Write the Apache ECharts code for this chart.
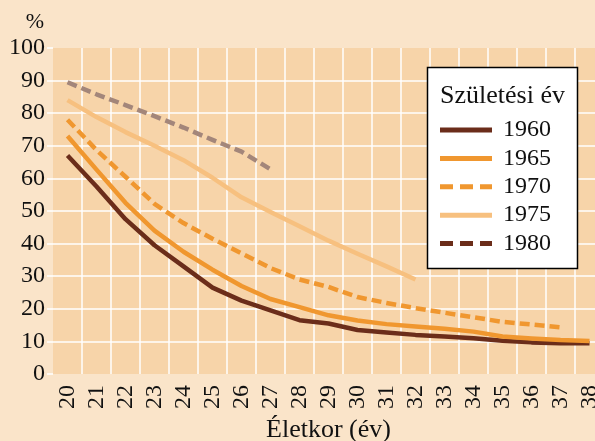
<!DOCTYPE html>
<html>
<head>
<meta charset="utf-8">
<script src="https://cdn.jsdelivr.net/npm/echarts@6/dist/echarts.min.js"></script>
<style>
  html, body { margin: 0; padding: 0; background: #fae4c9; }
  #chart { width: 595px; height: 441px; }
</style>
</head>
<body>
<div id="chart"></div>
<script>
const categories = ['20','21','22','23','24','25','26','27','28','29','30','31','32','33','34','35','36','37','38'];
const yTicks = [0, 10, 20, 30, 40, 50, 60, 70, 80, 90, 100];
const seriesNames = ['1960', '1965', '1970', '1975', '1980'];
const s1960 = [67, 57.5, 47.5, 39.5, 33, 26.5, 22.5, 19.5, 16.5, 15.5, 13.5, 12.7, 12, 11.5, 11, 10.2, 9.7, 9.4, 9.4];
const s1965 = [73, 62.7, 52.5, 44, 37.5, 32, 27, 23, 20.5, 18, 16.4, 15.3, 14.6, 13.9, 13, 11.5, 10.9, 10.4, 10.1];
const s1970 = [78, 68.7, 60.5, 52.2, 46.3, 41.5, 37, 32.5, 29, 26.7, 23.6, 21.8, 20.2, 18.8, 17.4, 16, 15.2, 14.3, null];
const s1975 = [84, 78.8, 74.2, 70, 65.6, 60.2, 54.2, 49.7, 45.3, 40.9, 36.9, 33, 29, null, null, null, null, null, null];
const s1980 = [89.5, 85.8, 82.5, 79.1, 75.6, 71.8, 68.2, 62.8, null, null, null, null, null, null, null, null, null, null, null];

const FONT = "'Liberation Serif', 'Times New Roman', serif";
const ICON_SOLID = 'path://M0,0H52V5H0Z';
const ICON_DASH = 'path://M0,0H13V5H0Z M20,0H33V5H20Z M40,0H52V5H40Z';
const chart = echarts.init(document.getElementById('chart'), null, { renderer: 'canvas' });

function lineSeries(name, data, color, type) {
  return {
    name, type: 'line', data, symbol: 'none', smooth: false,
    connectNulls: false,
    lineStyle: { color, width: 4.5, type, cap: 'butt', join: 'round' },
    itemStyle: { color },
    z: 2
  };
}

chart.setOption({
  backgroundColor: '#fae4c9',
  animation: false,
  grid: {
    left: 53, top: 48, width: 551, height: 326,
    containLabel: false, outerBoundsMode: 'none',
    show: true, backgroundColor: '#f7d4a9', borderWidth: 0
  },
  xAxis: {
    type: 'category', data: categories, boundaryGap: true,
    name: 'Életkor (év)', nameLocation: 'middle', nameGap: 42,
    nameTextStyle: { fontFamily: FONT, fontSize: 26, color: '#111' },
    axisLine: { show: false }, axisTick: { show: false },
    axisLabel: { rotate: 90, margin: 11, interval: 0, fontFamily: FONT, fontSize: 24, color: '#111' },
    splitLine: { show: true, interval: 0, showMinLine: false, lineStyle: { color: '#ffffff', width: 1.5 } }
  },
  yAxis: {
    type: 'value', min: 0, max: 100, interval: 10,
    axisLine: { show: false },
    axisTick: { show: true, length: 6, lineStyle: { color: '#ffffff', width: 1.5 } },
    axisLabel: { margin: 8, fontFamily: FONT, fontSize: 24, color: '#111',
      formatter: v => yTicks.includes(v) ? String(v) : '' },
    splitLine: { show: true, showMinLine: false, showMaxLine: false, lineStyle: { color: '#ffffff', width: 1.5 } }
  },
  legend: {
    orient: 'vertical', left: 440, top: 118, padding: 0,
    itemWidth: 52, itemHeight: 5, itemGap: 4.4,
    textStyle: { fontFamily: FONT, fontSize: 24, color: '#111', lineHeight: 24, padding: [0, 0, 0, 6] },
    z: 5,
    data: [
      { name: seriesNames[0], icon: ICON_SOLID, itemStyle: { color: '#6b2d1a' } },
      { name: seriesNames[1], icon: ICON_SOLID, itemStyle: { color: '#f0972f' } },
      { name: seriesNames[2], icon: ICON_DASH, itemStyle: { color: '#f0972f' } },
      { name: seriesNames[3], icon: ICON_SOLID, itemStyle: { color: '#f7c07f' } },
      { name: seriesNames[4], icon: ICON_DASH, itemStyle: { color: '#6b2d1a' } }
    ]
  },
  graphic: [
    { type: 'rect', z: 3, shape: { x: 427.5, y: 67.5, width: 150, height: 201 },
      style: { fill: '#ffffff', stroke: '#000000', lineWidth: 1.5 } },
    { type: 'text', z: 4, x: 502.5, y: 96,
      style: { text: 'Születési év', fontFamily: FONT, fontSize: 26, fill: '#111', align: 'center', verticalAlign: 'middle' } },
    { type: 'text', z: 4, x: 35, y: 22,
      style: { text: '%', fontFamily: FONT, fontSize: 22, fill: '#111', align: 'center', verticalAlign: 'middle' } }
  ],
  series: [
    lineSeries(seriesNames[0], s1960, '#6b2d1a', 'solid'),
    lineSeries(seriesNames[1], s1965, '#f0972f', 'solid'),
    lineSeries(seriesNames[2], s1970, '#f0972f', [10, 5]),
    lineSeries(seriesNames[3], s1975, '#f7c07f', 'solid'),
    lineSeries(seriesNames[4], s1980, '#a3867a', [10, 5])
  ]
});
</script>
</body>
</html>
